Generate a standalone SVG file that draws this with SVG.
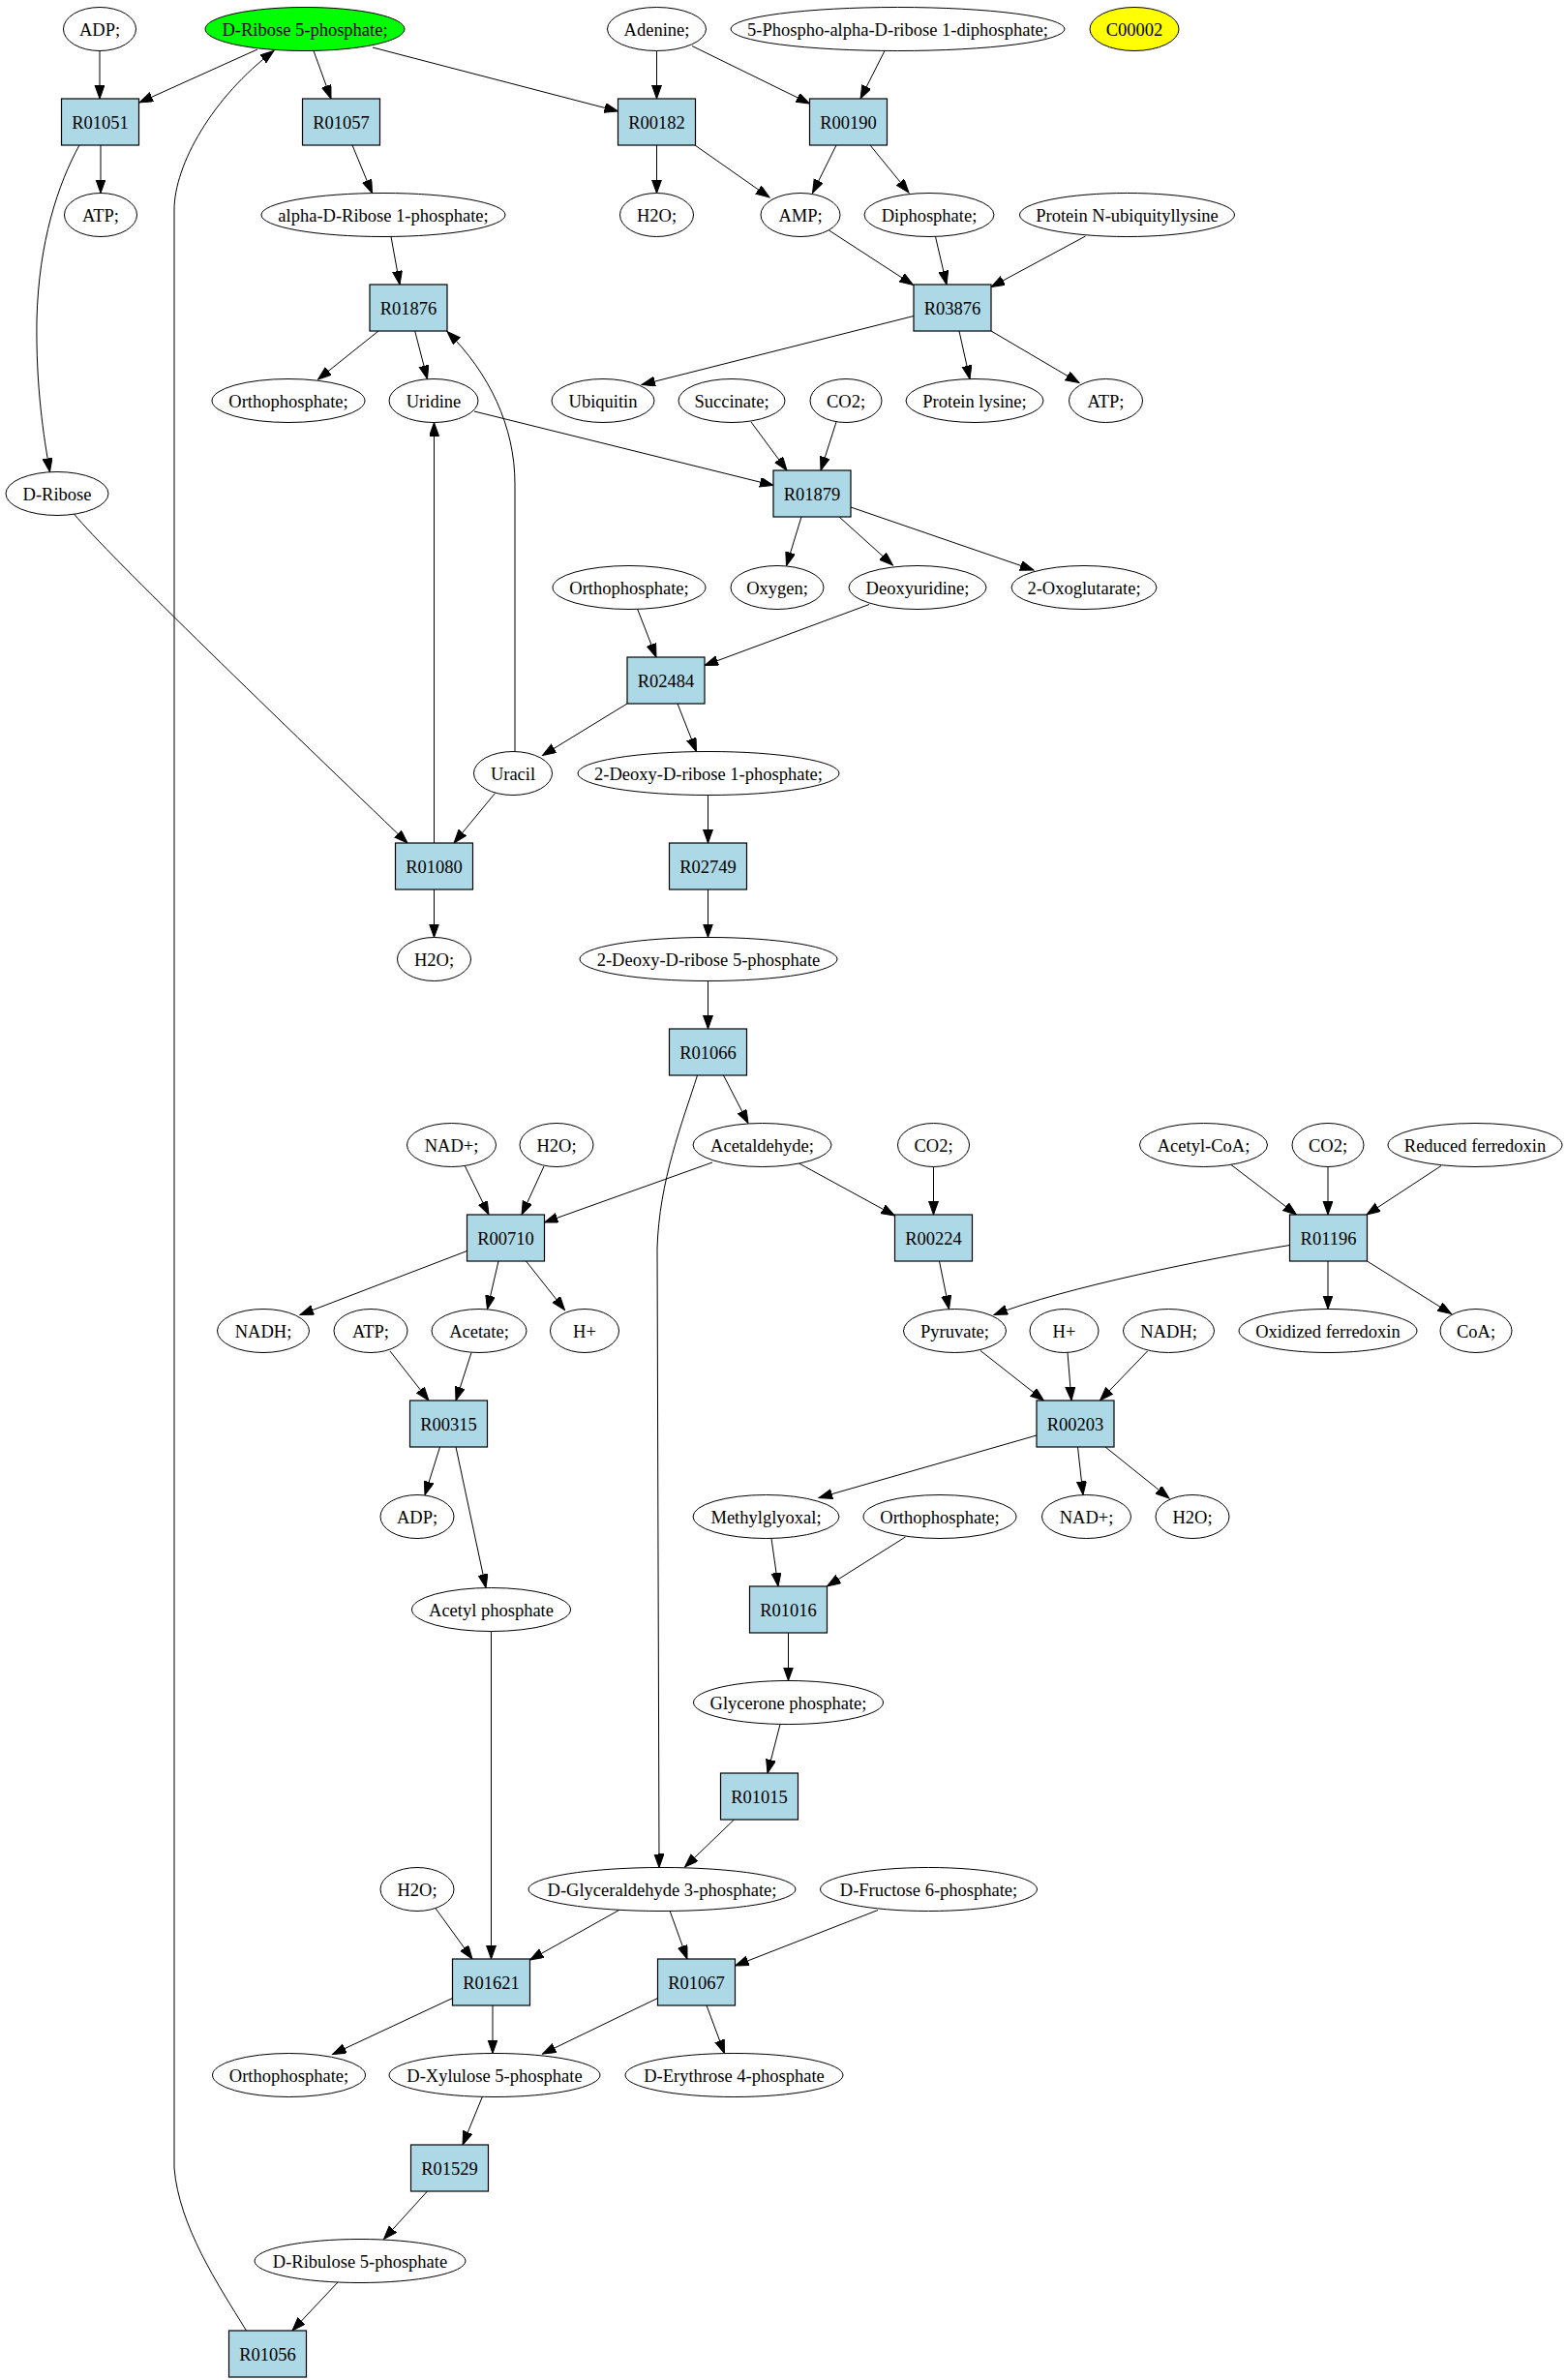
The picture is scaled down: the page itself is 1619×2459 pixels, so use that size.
<svg xmlns="http://www.w3.org/2000/svg" width="1619" height="2459" viewBox="0 0 1619 2459">
<style>
.n ellipse{fill:#ffffff;stroke:#000;stroke-width:1}
.r rect{fill:#add8e6;stroke:#000;stroke-width:1.2}
text{font-family:"Liberation Serif","Times New Roman",serif;font-size:18.5px;text-anchor:middle;fill:#000}
#edges path{fill:none;stroke:#000;stroke-width:1;marker-end:url(#ah)}
</style>
<defs>
<marker id="ah" markerUnits="userSpaceOnUse" markerWidth="15" markerHeight="11" refX="14" refY="5" orient="auto">
<path d="M0,0 L14,5 L0,10 Z" fill="#000" stroke="#000" stroke-width="1"/>
</marker>
</defs>
<rect width="1619" height="2459" fill="#fff"/>
<g id="edges">
<path d="M103,52.5 L103,102"/>
<path d="M266,51 L144,106"/>
<path d="M324,52.5 L342,102"/>
<path d="M385,49 L638.5,115"/>
<path d="M678.5,52.5 L678.5,102"/>
<path d="M715,47.5 L836.5,107"/>
<path d="M914,52.5 L889,102"/>
<path d="M104,150 L104,199.5"/>
<path d="M82,150 C60,190 40,250 38,330 C37,400 45,450 51.5,487.5"/>
<path d="M364,150 L384.5,199.7"/>
<path d="M678.5,150 L678.5,199.7"/>
<path d="M718,150 L795,204"/>
<path d="M864,150 L839.5,199.5"/>
<path d="M899,150 L939,199"/>
<path d="M404,244.5 L413,294"/>
<path d="M856.5,238 L943.5,294.5"/>
<path d="M966.5,244.5 L978,294"/>
<path d="M1121.5,244 L1024,296.5"/>
<path d="M391,342 L328.5,392"/>
<path d="M428.7,342 L441.5,391.5"/>
<path d="M532,776.5 L532,500 C532,440 505,385 462,342.5"/>
<path d="M944,326.5 L663,397.5"/>
<path d="M991,342 L1002,391.7"/>
<path d="M1024,342 L1115,395.5"/>
<path d="M490,425 L799,501.5"/>
<path d="M776,436 L813,486"/>
<path d="M864,436 L848,486"/>
<path d="M76.5,531 C110,572 300,755 421,871"/>
<path d="M828,534 L812.5,584.5"/>
<path d="M867,534 L922.5,584"/>
<path d="M879,524 L1068,589"/>
<path d="M658.5,629 L678,679"/>
<path d="M898,624.5 L728,687.5"/>
<path d="M648,727 L560.5,780.5"/>
<path d="M700,727 L719.5,776.5"/>
<path d="M511.5,819.5 L469,871"/>
<path d="M448.5,871 L448.5,436.5"/>
<path d="M731.5,821.5 L731.5,871"/>
<path d="M448.5,919 L448.5,968.5"/>
<path d="M731.5,919 L731.5,968.5"/>
<path d="M731.5,1013.5 L731.5,1063"/>
<path d="M747.5,1111 L773,1160.5"/>
<path d="M720.5,1111 C705,1160 681,1220 679,1290 L681,1929.5"/>
<path d="M480.5,1205 L505,1255"/>
<path d="M562,1205 L539,1255"/>
<path d="M736,1201 L562.5,1263"/>
<path d="M825.5,1202 L924.5,1256"/>
<path d="M964.5,1205.5 L964.5,1255"/>
<path d="M1272,1203.5 L1339.5,1255"/>
<path d="M1372,1205.5 L1372,1255"/>
<path d="M1489,1204.5 L1412,1255"/>
<path d="M482.5,1292.5 L310,1358.5"/>
<path d="M515,1303 L503.5,1352.5"/>
<path d="M543.5,1303 L583.5,1353.5"/>
<path d="M970.5,1303 L980.5,1352.5"/>
<path d="M1332.5,1286.5 C1250,1300 1100,1330 1027,1358.5"/>
<path d="M1372,1303 L1372,1352.5"/>
<path d="M1412.5,1303 L1499.5,1357.5"/>
<path d="M403,1396 L443,1447"/>
<path d="M487,1397.5 L471,1447"/>
<path d="M1013,1395.5 L1078.5,1447"/>
<path d="M1103,1397.5 L1107,1447"/>
<path d="M1185.5,1396 L1136.5,1447"/>
<path d="M454.5,1495 L439,1544.5"/>
<path d="M471,1495 L502,1640.5"/>
<path d="M1071,1483 L846,1547.5"/>
<path d="M1113.5,1495 L1119,1544.5"/>
<path d="M1142,1495 L1208,1548"/>
<path d="M797,1589.5 L804,1639"/>
<path d="M935.5,1588 L854.5,1639"/>
<path d="M814.5,1687 L814.5,1736.5"/>
<path d="M806,1781.5 L793,1832"/>
<path d="M507.5,1685.5 L507.5,2024"/>
<path d="M758.5,1880 L707.5,1929"/>
<path d="M449.5,1971 L488,2024"/>
<path d="M640.5,1973 L547.5,2025"/>
<path d="M692,1974 L710,2024"/>
<path d="M907,1973.5 L759.5,2031"/>
<path d="M730,2072 L748.5,2121.5"/>
<path d="M467.5,2064.5 L343.5,2122.5"/>
<path d="M509,2072 L509,2121.5"/>
<path d="M679.5,2064.5 L560.5,2122"/>
<path d="M498.5,2166 L478,2216"/>
<path d="M441.5,2264 L396.5,2313.5"/>
<path d="M349,2358 L302,2408"/>
<path d="M254.5,2408 C225,2360 185,2300 180,2240 L180,217 C180,170 220,100 283,52.5"/>
</g>
<g id="c_ADP_1" class="n"><ellipse cx="103" cy="30" rx="37.5" ry="22.5"/><text x="103" y="36.5">ADP;</text></g>
<g id="c_DR5P" class="n"><ellipse cx="315" cy="30" rx="103" ry="22.5" style="fill:#00ff00"/><text x="315" y="36.5">D-Ribose 5-phosphate;</text></g>
<g id="c_Adenine" class="n"><ellipse cx="678.5" cy="30" rx="51" ry="22.5"/><text x="678.5" y="36.5">Adenine;</text></g>
<g id="c_PRPP" class="n"><ellipse cx="927.5" cy="30" rx="172.5" ry="22.5"/><text x="927.5" y="36.5">5-Phospho-alpha-D-ribose 1-diphosphate;</text></g>
<g id="c_C00002" class="n"><ellipse cx="1172" cy="30" rx="46" ry="22.5" style="fill:#ffff00"/><text x="1172" y="36.5">C00002</text></g>
<g id="r_R01051" class="r"><rect x="63.5" y="102" width="80" height="48"/><text x="103.5" y="132.5">R01051</text></g>
<g id="r_R01057" class="r"><rect x="312.5" y="102" width="80" height="48"/><text x="352.5" y="132.5">R01057</text></g>
<g id="r_R00182" class="r"><rect x="638.5" y="102" width="80" height="48"/><text x="678.5" y="132.5">R00182</text></g>
<g id="r_R00190" class="r"><rect x="836.5" y="102" width="80" height="48"/><text x="876.5" y="132.5">R00190</text></g>
<g id="c_ATP_1" class="n"><ellipse cx="104" cy="222" rx="37.5" ry="22.5"/><text x="104" y="228.5">ATP;</text></g>
<g id="c_aDR1P" class="n"><ellipse cx="396" cy="222" rx="126" ry="22.5"/><text x="396" y="228.5">alpha-D-Ribose 1-phosphate;</text></g>
<g id="c_H2O_1" class="n"><ellipse cx="678.5" cy="222" rx="38" ry="22.5"/><text x="678.5" y="228.5">H2O;</text></g>
<g id="c_AMP" class="n"><ellipse cx="827" cy="222" rx="41" ry="22.5"/><text x="827" y="228.5">AMP;</text></g>
<g id="c_PPi" class="n"><ellipse cx="960" cy="222" rx="67" ry="22.5"/><text x="960" y="228.5">Diphosphate;</text></g>
<g id="c_PNU" class="n"><ellipse cx="1164.5" cy="222" rx="111" ry="22.5"/><text x="1164.5" y="228.5">Protein N-ubiquityllysine</text></g>
<g id="r_R01876" class="r"><rect x="382" y="294" width="80" height="48"/><text x="422" y="324.5">R01876</text></g>
<g id="r_R03876" class="r"><rect x="944" y="294" width="80" height="48"/><text x="984" y="324.5">R03876</text></g>
<g id="c_Pi_1" class="n"><ellipse cx="298" cy="414" rx="79" ry="22.5"/><text x="298" y="420.5">Orthophosphate;</text></g>
<g id="c_Uridine" class="n"><ellipse cx="448" cy="414" rx="46" ry="22.5"/><text x="448" y="420.5">Uridine</text></g>
<g id="c_Ubiquitin" class="n"><ellipse cx="623" cy="414" rx="53" ry="22.5"/><text x="623" y="420.5">Ubiquitin</text></g>
<g id="c_Succinate" class="n"><ellipse cx="756" cy="414" rx="55" ry="22.5"/><text x="756" y="420.5">Succinate;</text></g>
<g id="c_CO2_1" class="n"><ellipse cx="874" cy="414" rx="37" ry="22.5"/><text x="874" y="420.5">CO2;</text></g>
<g id="c_ProtLys" class="n"><ellipse cx="1007" cy="414" rx="71" ry="22.5"/><text x="1007" y="420.5">Protein lysine;</text></g>
<g id="c_ATP_2" class="n"><ellipse cx="1142.5" cy="414" rx="38" ry="22.5"/><text x="1142.5" y="420.5">ATP;</text></g>
<g id="c_DRibose" class="n"><ellipse cx="59" cy="510" rx="53" ry="22.5"/><text x="59" y="516.5">D-Ribose</text></g>
<g id="r_R01879" class="r"><rect x="799" y="486" width="80" height="48"/><text x="839" y="516.5">R01879</text></g>
<g id="c_Pi_2" class="n"><ellipse cx="650" cy="607" rx="79" ry="22.5"/><text x="650" y="613.5">Orthophosphate;</text></g>
<g id="c_Oxygen" class="n"><ellipse cx="803" cy="607" rx="48" ry="22.5"/><text x="803" y="613.5">Oxygen;</text></g>
<g id="c_Deoxyuridine" class="n"><ellipse cx="948" cy="607" rx="71" ry="22.5"/><text x="948" y="613.5">Deoxyuridine;</text></g>
<g id="c_2OG" class="n"><ellipse cx="1120" cy="607" rx="75" ry="22.5"/><text x="1120" y="613.5">2-Oxoglutarate;</text></g>
<g id="r_R02484" class="r"><rect x="648" y="679" width="80" height="48"/><text x="688" y="709.5">R02484</text></g>
<g id="c_Uracil" class="n"><ellipse cx="530" cy="799" rx="40.5" ry="22.5"/><text x="530" y="805.5">Uracil</text></g>
<g id="c_dR1P" class="n"><ellipse cx="732" cy="799" rx="135" ry="22.5"/><text x="732" y="805.5">2-Deoxy-D-ribose 1-phosphate;</text></g>
<g id="r_R01080" class="r"><rect x="408.5" y="871" width="80" height="48"/><text x="448.5" y="901.5">R01080</text></g>
<g id="r_R02749" class="r"><rect x="691.5" y="871" width="80" height="48"/><text x="731.5" y="901.5">R02749</text></g>
<g id="c_H2O_2" class="n"><ellipse cx="448.5" cy="991" rx="38" ry="22.5"/><text x="448.5" y="997.5">H2O;</text></g>
<g id="c_dR5P" class="n"><ellipse cx="732" cy="991" rx="133" ry="22.5"/><text x="732" y="997.5">2-Deoxy-D-ribose 5-phosphate</text></g>
<g id="r_R01066" class="r"><rect x="691.5" y="1063" width="80" height="48"/><text x="731.5" y="1093.5">R01066</text></g>
<g id="c_NAD_1" class="n"><ellipse cx="466.5" cy="1183" rx="46" ry="22.5"/><text x="466.5" y="1189.5">NAD+;</text></g>
<g id="c_H2O_3" class="n"><ellipse cx="575" cy="1183" rx="38" ry="22.5"/><text x="575" y="1189.5">H2O;</text></g>
<g id="c_Acetaldehyde" class="n"><ellipse cx="787.5" cy="1183" rx="71.5" ry="22.5"/><text x="787.5" y="1189.5">Acetaldehyde;</text></g>
<g id="c_CO2_2" class="n"><ellipse cx="964.5" cy="1183" rx="37" ry="22.5"/><text x="964.5" y="1189.5">CO2;</text></g>
<g id="c_AcCoA" class="n"><ellipse cx="1243.5" cy="1183" rx="66" ry="22.5"/><text x="1243.5" y="1189.5">Acetyl-CoA;</text></g>
<g id="c_CO2_3" class="n"><ellipse cx="1372" cy="1183" rx="37" ry="22.5"/><text x="1372" y="1189.5">CO2;</text></g>
<g id="c_RedFd" class="n"><ellipse cx="1524" cy="1183" rx="90" ry="22.5"/><text x="1524" y="1189.5">Reduced ferredoxin</text></g>
<g id="r_R00710" class="r"><rect x="482.5" y="1255" width="80" height="48"/><text x="522.5" y="1285.5">R00710</text></g>
<g id="r_R00224" class="r"><rect x="924.5" y="1255" width="80" height="48"/><text x="964.5" y="1285.5">R00224</text></g>
<g id="r_R01196" class="r"><rect x="1332.5" y="1255" width="80" height="48"/><text x="1372.5" y="1285.5">R01196</text></g>
<g id="c_NADH_1" class="n"><ellipse cx="272" cy="1375" rx="47.5" ry="22.5"/><text x="272" y="1381.5">NADH;</text></g>
<g id="c_ATP_3" class="n"><ellipse cx="383" cy="1375" rx="38" ry="22.5"/><text x="383" y="1381.5">ATP;</text></g>
<g id="c_Acetate" class="n"><ellipse cx="495" cy="1375" rx="49" ry="22.5"/><text x="495" y="1381.5">Acetate;</text></g>
<g id="c_H_1" class="n"><ellipse cx="604" cy="1375" rx="35.5" ry="22.5"/><text x="604" y="1381.5">H+</text></g>
<g id="c_Pyruvate" class="n"><ellipse cx="986.5" cy="1375" rx="53" ry="22.5"/><text x="986.5" y="1381.5">Pyruvate;</text></g>
<g id="c_H_2" class="n"><ellipse cx="1099.5" cy="1375" rx="35.5" ry="22.5"/><text x="1099.5" y="1381.5">H+</text></g>
<g id="c_NADH_2" class="n"><ellipse cx="1207.5" cy="1375" rx="47" ry="22.5"/><text x="1207.5" y="1381.5">NADH;</text></g>
<g id="c_OxFd" class="n"><ellipse cx="1372" cy="1375" rx="92" ry="22.5"/><text x="1372" y="1381.5">Oxidized ferredoxin</text></g>
<g id="c_CoA" class="n"><ellipse cx="1525" cy="1375" rx="37" ry="22.5"/><text x="1525" y="1381.5">CoA;</text></g>
<g id="r_R00315" class="r"><rect x="423.5" y="1447" width="80" height="48"/><text x="463.5" y="1477.5">R00315</text></g>
<g id="r_R00203" class="r"><rect x="1071" y="1447" width="80" height="48"/><text x="1111" y="1477.5">R00203</text></g>
<g id="c_ADP_2" class="n"><ellipse cx="431" cy="1567" rx="38" ry="22.5"/><text x="431" y="1573.5">ADP;</text></g>
<g id="c_Methylglyoxal" class="n"><ellipse cx="791.5" cy="1567" rx="75.5" ry="22.5"/><text x="791.5" y="1573.5">Methylglyoxal;</text></g>
<g id="c_Pi_3" class="n"><ellipse cx="971" cy="1567" rx="79" ry="22.5"/><text x="971" y="1573.5">Orthophosphate;</text></g>
<g id="c_NAD_2" class="n"><ellipse cx="1122.5" cy="1567" rx="46" ry="22.5"/><text x="1122.5" y="1573.5">NAD+;</text></g>
<g id="c_H2O_4" class="n"><ellipse cx="1232" cy="1567" rx="38" ry="22.5"/><text x="1232" y="1573.5">H2O;</text></g>
<g id="c_AcP" class="n"><ellipse cx="507.5" cy="1663" rx="82" ry="22.5"/><text x="507.5" y="1669.5">Acetyl phosphate</text></g>
<g id="r_R01016" class="r"><rect x="774.5" y="1639" width="80" height="48"/><text x="814.5" y="1669.5">R01016</text></g>
<g id="c_DHAP" class="n"><ellipse cx="814.5" cy="1759" rx="98" ry="22.5"/><text x="814.5" y="1765.5">Glycerone phosphate;</text></g>
<g id="r_R01015" class="r"><rect x="744.5" y="1832" width="80" height="48"/><text x="784.5" y="1862.5">R01015</text></g>
<g id="c_H2O_5" class="n"><ellipse cx="431" cy="1952" rx="38" ry="22.5"/><text x="431" y="1958.5">H2O;</text></g>
<g id="c_GAP" class="n"><ellipse cx="684" cy="1952" rx="138" ry="22.5"/><text x="684" y="1958.5">D-Glyceraldehyde 3-phosphate;</text></g>
<g id="c_F6P" class="n"><ellipse cx="959.5" cy="1952" rx="112" ry="22.5"/><text x="959.5" y="1958.5">D-Fructose 6-phosphate;</text></g>
<g id="r_R01621" class="r"><rect x="467.5" y="2024" width="80" height="48"/><text x="507.5" y="2054.5">R01621</text></g>
<g id="r_R01067" class="r"><rect x="679.5" y="2024" width="80" height="48"/><text x="719.5" y="2054.5">R01067</text></g>
<g id="c_Pi_4" class="n"><ellipse cx="298.5" cy="2144" rx="79" ry="22.5"/><text x="298.5" y="2150.5">Orthophosphate;</text></g>
<g id="c_Xu5P" class="n"><ellipse cx="511" cy="2144" rx="109" ry="22.5"/><text x="511" y="2150.5">D-Xylulose 5-phosphate</text></g>
<g id="c_E4P" class="n"><ellipse cx="758.5" cy="2144" rx="112.5" ry="22.5"/><text x="758.5" y="2150.5">D-Erythrose 4-phosphate</text></g>
<g id="r_R01529" class="r"><rect x="424.5" y="2216" width="80" height="48"/><text x="464.5" y="2246.5">R01529</text></g>
<g id="c_Ru5P" class="n"><ellipse cx="372" cy="2336" rx="109" ry="22.5"/><text x="372" y="2342.5">D-Ribulose 5-phosphate</text></g>
<g id="r_R01056" class="r"><rect x="236.5" y="2408" width="80" height="48"/><text x="276.5" y="2438.5">R01056</text></g>
</svg>
